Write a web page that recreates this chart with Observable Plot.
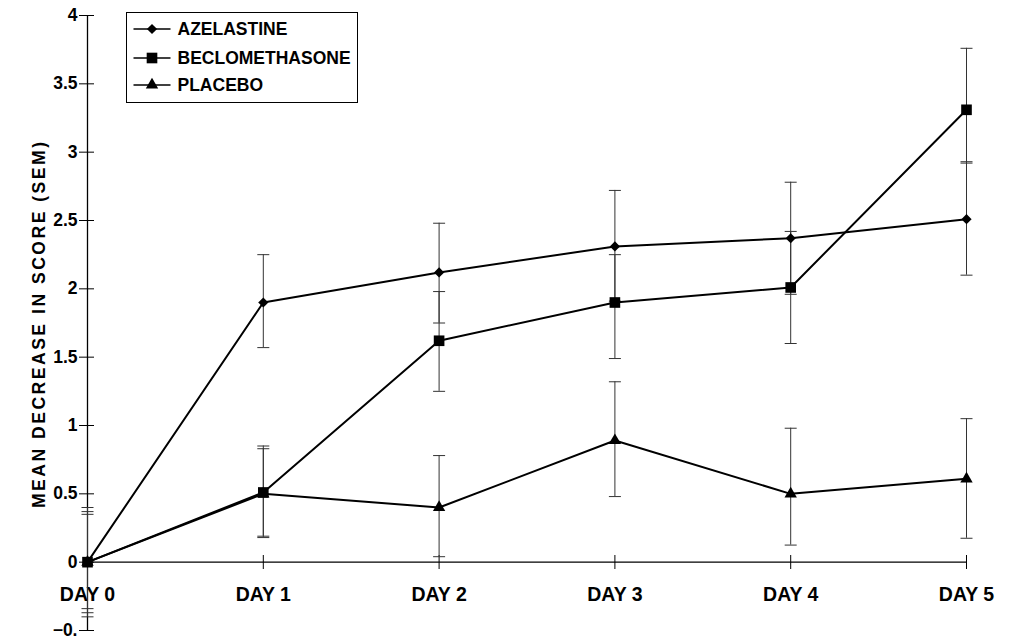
<!DOCTYPE html>
<html>
<head>
<meta charset="utf-8">
<script src="https://cdn.jsdelivr.net/npm/d3@7"></script>
<script src="https://cdn.jsdelivr.net/npm/@observablehq/plot@0.6"></script>
<style>
  html, body { margin: 0; padding: 0; background: white; }
</style>
</head>
<body>
<div id="chart"></div>
<script>
// ---- data ----
const days = [0, 1, 2, 3, 4, 5];
const dayLabels = ["DAY 0", "DAY 1", "DAY 2", "DAY 3", "DAY 4", "DAY 5"];

const azelastine = [0, 1.90, 2.12, 2.31, 2.37, 2.51];
const azelastineLow = [-0.37, 1.57, 1.75, 1.91, 1.96, 2.10];
const azelastineHigh = [0.37, 2.25, 2.48, 2.72, 2.78, 2.93];

const beclomethasone = [0, 0.51, 1.62, 1.90, 2.01, 3.31];
const beclomethasoneLow = [-0.34, 0.18, 1.25, 1.49, 1.60, 2.92];
const beclomethasoneHigh = [0.35, 0.85, 1.98, 2.25, 2.42, 3.76];

const placebo = [0, 0.50, 0.40, 0.89, 0.50, 0.61];
const placeboLow = [-0.40, 0.19, 0.04, 0.48, 0.125, 0.175];
const placeboHigh = [0.40, 0.83, 0.78, 1.32, 0.98, 1.05];

const seriesNames = ["AZELASTINE", "BECLOMETHASONE", "PLACEBO"];
const yTicks = [-0.5, 0, 0.5, 1, 1.5, 2, 2.5, 3, 3.5, 4];
const yTickLabels = ["\u22120.", "0", "0.5", "1", "1.5", "2", "2.5", "3", "3.5", "4"];
const yTitle = "MEAN DECREASE IN SCORE (SEM)";

// ---- build tables ----
const series = [
  {name: seriesNames[0], values: azelastine, low: azelastineLow, high: azelastineHigh, symbol: "diamond2", r: 4.6},
  {name: seriesNames[1], values: beclomethasone, low: beclomethasoneLow, high: beclomethasoneHigh, symbol: "square", r: 6},
  {name: seriesNames[2], values: placebo, low: placeboLow, high: placeboHigh, symbol: "triangle", r: 4.6}
];
const rows = series.flatMap(s => days.map((d, i) => ({
  series: s.name, day: d, value: s.values[i], low: s.low[i], high: s.high[i]
})));
const tickLabel = new Map(yTicks.map((t, i) => [t, yTickLabels[i]]));

const capSymbol = {
  draw(context, size) {
    const w = Math.sqrt(size / Math.PI);
    context.moveTo(-w, 0);
    context.lineTo(w, 0);
  }
};

const drawOrder = [series[2], series[0], series[1]];
const legendRowsDy = [13.5, 42.5, 69.5];

const marks = [
  // axis lines
  Plot.ruleX([0], {y1: -0.5, y2: 4, stroke: "black", strokeWidth: 1.3}),
  Plot.ruleY([0], {x1: 0, x2: 5, stroke: "black", strokeWidth: 1.3}),
  Plot.axisY({
    ticks: yTicks, tickFormat: d => tickLabel.get(d), tickSize: 15, dx: 7, tickPadding: 2,
    fontSize: 17.5, label: null, strokeWidth: 1
  }),
  Plot.axisX({
    ticks: days, tickFormat: d => dayLabels[d], tickSize: 14, dy: -75, tickPadding: 18,
    fontSize: 19.5, label: null, strokeWidth: 1
  }),
  Plot.text([yTitle], {frameAnchor: "left", dx: -48, dy: 185, rotate: -90, textAnchor: "start", fontSize: 17.5, fontWeight: "bold", fill: "black"}),
  // error bars
  Plot.ruleX(rows, {x: "day", y1: "low", y2: "high", stroke: "#333", strokeWidth: 1}),
  Plot.dot(rows, {x: "day", y: "low", symbol: capSymbol, r: 6, stroke: "#333", fill: "none", strokeWidth: 1}),
  Plot.dot(rows, {x: "day", y: "high", symbol: capSymbol, r: 6, stroke: "#333", fill: "none", strokeWidth: 1}),
  // lines
  Plot.line(rows, {x: "day", y: "value", z: "series", stroke: "black", strokeWidth: 2}),
  // markers
  ...drawOrder.map(s => Plot.dot(rows.filter(d => d.series === s.name), {
    x: "day", y: "value", symbol: s.symbol, r: s.r, fill: "black", stroke: "none"
  })),
  // legend box
  Plot.frame({insetLeft: 39, insetRight: 609, insetTop: -3, insetBottom: 528, stroke: "black", strokeWidth: 1, fill: "white"}),
  ...series.flatMap((s, i) => [
    Plot.dot([s.name], {frameAnchor: "top-left", dx: 64.5, dy: legendRowsDy[i], symbol: capSymbol, r: 18.5, stroke: "black", fill: "none", strokeWidth: 1.3}),
    Plot.dot([s.name], {frameAnchor: "top-left", dx: 64.5, dy: legendRowsDy[i], symbol: s.symbol, r: s.r, fill: "black", stroke: "none"}),
    Plot.text([s.name], {frameAnchor: "top-left", dx: 90, dy: legendRowsDy[i], text: d => d, textAnchor: "start", lineAnchor: "middle", fontSize: 17.5, fontWeight: "bold", fill: "black"})
  ])
];

const chart = Plot.plot({
  width: 1010,
  height: 642,
  marginLeft: 87,
  marginRight: 44,
  marginTop: 15,
  marginBottom: 12,
  x: {domain: [0, 5], axis: null},
  y: {domain: [-0.5, 4], axis: null},
  style: {fontFamily: "'Liberation Sans', Arial, Helvetica, sans-serif", fontWeight: "bold", background: "white", color: "black"},
  marks
});
// stretch the rotated y title along its length, as in the reference
d3.select(chart).selectAll("text")
  .filter(function() { return this.textContent === yTitle; })
  .attr("textLength", 366)
  .attr("lengthAdjust", "spacing");
document.getElementById("chart").appendChild(chart);
</script>
</body>
</html>
